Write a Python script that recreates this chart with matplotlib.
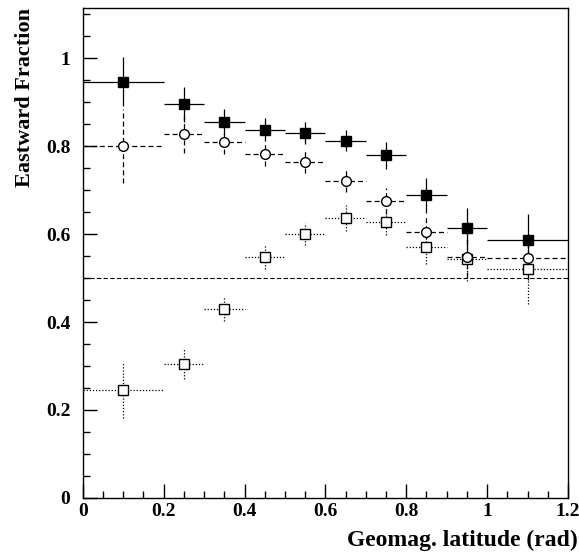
import matplotlib
matplotlib.use("Agg")
import matplotlib.pyplot as plt
from matplotlib.ticker import MultipleLocator

# bins in geomagnetic latitude (rad)
x = [0.1, 0.25, 0.35, 0.45, 0.55, 0.65, 0.75, 0.85, 0.95, 1.1]
xerr = [0.1, 0.05, 0.05, 0.05, 0.05, 0.05, 0.05, 0.05, 0.05, 0.1]

# filled squares
y_all = [0.947, 0.895, 0.855, 0.838, 0.831, 0.813, 0.779, 0.688, 0.613, 0.587]
e_all = [0.055, 0.040, 0.030, 0.027, 0.025, 0.025, 0.030, 0.040, 0.046, 0.058]

# open circles
y_circ = [0.800, 0.827, 0.809, 0.782, 0.764, 0.720, 0.675, 0.605, 0.548, 0.546]
e_circ = [0.084, 0.043, 0.027, 0.027, 0.025, 0.025, 0.030, 0.035, 0.045, 0.050]

# open squares
y_sq = [0.245, 0.305, 0.430, 0.548, 0.600, 0.637, 0.627, 0.570, 0.543, 0.520]
e_sq = [0.063, 0.034, 0.027, 0.028, 0.025, 0.030, 0.030, 0.039, 0.050, 0.080]

plt.rcParams['font.family'] = ['Liberation Serif', 'DejaVu Serif']
plt.rcParams['font.weight'] = 'bold'

fig = plt.figure(figsize=(5.79, 5.55), dpi=100)
ax = fig.add_axes([0.143, 0.103, 0.838, 0.883])

ax.axhline(0.5, color='black', lw=0.8, ls=(0, (4, 2)))

def draw(y, e, marker, fill, ls):
    c = ax.errorbar(x, y, xerr=xerr, yerr=e, fmt=marker, ms=7,
                    mfc=fill, mec='black', mew=1.0, ecolor='black',
                    elinewidth=0.9, capsize=0, zorder=3)
    for lc in c[2]:
        lc.set_linestyle(ls)

draw(y_sq, e_sq, 's', 'white', (0, (1, 1.5)))
draw(y_circ, e_circ, 'o', 'white', (0, (4, 2.5)))
draw(y_all, e_all, 's', 'black', '-')

ax.set_xlim(0, 1.2)
ax.set_ylim(0, 1.115)
ax.xaxis.set_major_locator(MultipleLocator(0.2))
ax.xaxis.set_minor_locator(MultipleLocator(0.05))
ax.yaxis.set_major_locator(MultipleLocator(0.2))
ax.yaxis.set_minor_locator(MultipleLocator(0.05))
ax.tick_params(which='both', direction='in', top=False, right=False,
               labelsize=14, width=1)
ax.tick_params(which='major', length=10)
ax.tick_params(which='minor', length=5)
ax.tick_params(axis='x', which='major', pad=4)
ax.tick_params(axis='y', which='major', pad=9)
ax.xaxis.set_major_formatter(plt.FuncFormatter(lambda v, p: f"{v:g}"))
ax.yaxis.set_major_formatter(plt.FuncFormatter(lambda v, p: f"{v:g}"))
for s in ax.spines.values():
    s.set_linewidth(1.0)

ax.set_ylabel('Eastward Fraction', fontsize=16, fontweight='bold')
ax.yaxis.set_label_coords(-0.12, 1.0)
ax.yaxis.label.set_ha('right')
ax.yaxis.label.set_va('center')
ax.set_xlabel('Geomag. latitude (rad)', fontsize=17, fontweight='bold')
ax.xaxis.set_label_coords(1.02, -0.087)
ax.xaxis.label.set_ha('right')
ax.xaxis.label.set_va('center')

fig.savefig('out.png', dpi=100)
